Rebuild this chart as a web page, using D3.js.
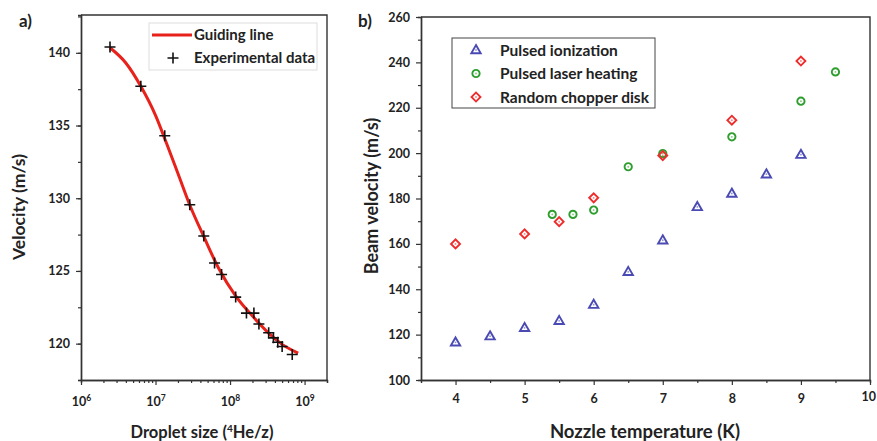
<!DOCTYPE html>
<html>
<head>
<meta charset="utf-8">
<script src="https://cdn.jsdelivr.net/npm/d3@7"></script>
<style>
  html, body { margin: 0; padding: 0; background: #fff; overflow: hidden; }
  svg { display: block; }
  svg text { font-family: Lato, "Open Sans", sans-serif; font-weight: bold; fill: #222; }
</style>
</head>
<body>
<div id="chart"></div>
<script>
// ---- data: panel a ----
const dropletSize = [2.45e6, 6.35e6, 1.33e7, 2.88e7, 4.44e7, 6.2e7, 7.7e7, 1.19e8, 1.66e8, 2.09e8, 2.44e8, 3.3e8, 3.82e8, 4.37e8, 5.0e8, 6.83e8];
const velocity = [140.4, 137.7, 134.3, 129.55, 127.4, 125.55, 124.75, 123.2, 122.1, 122.1, 121.35, 120.75, 120.4, 120.1, 119.8, 119.25];
const guideSize = [2.45e6, 4e6, 6.35e6, 1e7, 1.4e7, 2e7, 2.9e7, 4.5e7, 7e7, 1.2e8, 2e8, 3.5e8, 5e8, 8.2e8];
const guideVel = [140.35, 139.3, 137.7, 135.7, 133.8, 131.7, 129.5, 127.3, 125.2, 123.25, 121.9, 120.6, 119.95, 119.35];
const decadeTicks = [1e6, 1e7, 1e8, 1e9];
const decadeExp = ["6", "7", "8", "9"];
const velTicks = [120, 125, 130, 135, 140];

// ---- data: panel b ----
const ionT = [4, 4.5, 5, 5.5, 6, 6.5, 7, 7.5, 8, 8.5, 9];
const ionV = [116.6, 119.3, 123, 126.1, 133.2, 147.7, 161.6, 176.3, 182.2, 190.7, 199.3];
const laserT = [5.4, 5.7, 6, 6.5, 7, 8, 9, 9.5];
const laserV = [173, 173, 174.9, 194, 199.8, 207.2, 222.9, 235.8];
const chopT = [4, 5, 5.5, 6, 7, 8, 9];
const chopV = [160, 164.4, 169.8, 180.3, 198.9, 214.5, 240.6];
const seriesNames = ["Pulsed ionization", "Pulsed laser heating", "Random chopper disk"];
const seriesColors = ["#4a4ab4", "#2e9e2e", "#ee2d2d"];
const tempTicks = [4, 5, 6, 7, 8, 9, 10];
const beamTicks = [100, 120, 140, 160, 180, 200, 220, 240, 260];

const W = 877, H = 441;
const svg = d3.select("#chart").append("svg").attr("width", W).attr("height", H);
const axisColor = "#333";

function styleAxis(g) {
    g.selectAll("path").attr("stroke", axisColor).attr("stroke-width", 1.4);
    g.selectAll("line").attr("stroke", axisColor).attr("stroke-width", 1.2);
    g.selectAll("text").attr("fill", "#222").style("font-size", "12.5px");
}

function frame(x0, y0, x1, y1) {
    svg.append("path")
        .attr("d", `M${x0},${y0}H${x1}V${y1}`)
        .attr("fill", "none").attr("stroke", axisColor).attr("stroke-width", 1.4);
}

// ================= panel a =================
const ax = d3.scaleLog().domain([1e6, 2e9]).range([81, 327]);
const ay = d3.scaleLinear().domain([117.5, 142.6]).range([380, 15]);

frame(81, 15, 327, 380);

// minor ticks
const minorLog = ax.ticks().filter(v => decadeTicks.indexOf(v) < 0);
svg.append("g").attr("transform", "translate(0,380)")
    .call(d3.axisBottom(ax).tickValues(minorLog).tickSize(3).tickFormat(""))
    .call(styleAxis);
svg.append("g").attr("transform", "translate(81,0)")
    .call(d3.axisLeft(ay).tickValues(d3.range(117.5, 142.6, 2.5)).tickSize(3).tickFormat(""))
    .call(styleAxis);

const axB = svg.append("g").attr("transform", "translate(0,380)")
    .call(d3.axisBottom(ax).tickValues(decadeTicks).tickSize(5).tickSizeOuter(0).tickFormat(""))
    .call(styleAxis);
axB.selectAll(".tick").append("text")
    .attr("y", 26).attr("text-anchor", "middle").style("font-size", "12.5px")
    .each(function (d, i) {
        const t = d3.select(this);
        t.append("tspan").text("10");
        t.append("tspan").attr("dy", -5).style("font-size", "8.5px").text(decadeExp[i]);
    });

svg.append("g").attr("transform", "translate(81,0)")
    .call(d3.axisLeft(ay).tickValues(velTicks).tickSize(5).tickSizeOuter(0).tickPadding(6))
    .call(styleAxis);

// guiding line
const guide = d3.line()
    .x((d, i) => ax(guideSize[i]))
    .y((d, i) => ay(guideVel[i]))
    .curve(d3.curveMonotoneX);
svg.append("path").attr("d", guide(guideSize))
    .attr("fill", "none").attr("stroke", "#e8211a").attr("stroke-width", 3);

// crosses
const cross = s => `M${-s},0H${s}M0,${-s}V${s}`;
svg.append("g").selectAll("path").data(dropletSize).join("path")
    .attr("transform", (d, i) => `translate(${ax(d)},${ay(velocity[i])})`)
    .attr("d", cross(5.5))
    .attr("stroke", "#111").attr("stroke-width", 1.6);

// legend a
svg.append("rect").attr("x", 149).attr("y", 23).attr("width", 168).attr("height", 47)
    .attr("fill", "#fff").attr("stroke", "#ddd").attr("stroke-width", 1);
svg.append("line").attr("x1", 152).attr("x2", 192).attr("y1", 35).attr("y2", 35)
    .attr("stroke", "#e8211a").attr("stroke-width", 3);
svg.append("path").attr("transform", "translate(173,58)").attr("d", cross(5.5))
    .attr("stroke", "#111").attr("stroke-width", 1.6);
svg.append("text").attr("x", 194).attr("y", 40).style("font-size", "15px").text("Guiding line");
svg.append("text").attr("x", 194).attr("y", 63).style("font-size", "15px").text("Experimental data");

svg.append("text").attr("x", 19).attr("y", 27).style("font-size", "17px").text("a)");
svg.append("text").attr("transform", "translate(25,207) rotate(-90)").attr("text-anchor", "middle")
    .style("font-size", "17.5px").text("Velocity (m/s)");
const xt = svg.append("text").attr("x", 202).attr("y", 438).attr("text-anchor", "middle").style("font-size", "16.5px");
xt.append("tspan").text("Droplet size (");
xt.append("tspan").attr("dy", -6).style("font-size", "10px").text("4");
xt.append("tspan").attr("dy", 6).text("He/z)");

// ================= panel b =================
const bx = d3.scaleLinear().domain([3.5, 10]).range([421, 870]);
const by = d3.scaleLinear().domain([100, 260]).range([380, 17]);

frame(421, 17, 870, 380);

svg.append("g").attr("transform", "translate(0,380)")
    .call(d3.axisBottom(bx).tickValues(d3.range(4.5, 10, 1)).tickSize(3).tickFormat(""))
    .call(styleAxis);
svg.append("g").attr("transform", "translate(421,0)")
    .call(d3.axisLeft(by).tickValues(d3.range(110, 260, 20)).tickSize(3).tickFormat(""))
    .call(styleAxis);
const lastT = tempTicks[tempTicks.length - 1];
svg.append("g").attr("transform", "translate(0,380)")
    .call(d3.axisBottom(bx).tickValues(tempTicks).tickSize(5).tickSizeOuter(0).tickPadding(9)
        .tickFormat(d => d === lastT ? "" : String(d)))
    .call(styleAxis);
// last label sits against the page edge, pulled in so it stays whole
svg.append("text").attr("x", bx(lastT) + 6).attr("y", 401).attr("text-anchor", "end")
    .style("font-size", "12.5px").text(String(lastT));
svg.append("g").attr("transform", "translate(421,0)")
    .call(d3.axisLeft(by).tickValues(beamTicks).tickSize(5).tickSizeOuter(0).tickPadding(6))
    .call(styleAxis);

const symTypes = [d3.symbolTriangle, d3.symbolCircle, d3.symbolSquare];
const symSizes = [38, 42, 40];
const seriesT = [ionT, laserT, chopT];
const seriesV = [ionV, laserV, chopV];

function marker(g, k) {
    g.append("path")
        .attr("d", d3.symbol(symTypes[k], symSizes[k])())
        .attr("transform", k === 2 ? "rotate(45)" : (k === 0 ? "translate(0,0.5)" : ""))
        .attr("fill", "none").attr("stroke", seriesColors[k]).attr("stroke-width", 1.9);
    g.append("circle").attr("r", 0.9).attr("fill", seriesColors[k]).attr("opacity", 0.6);
}

seriesT.forEach((ts, k) => {
    svg.append("g").selectAll("g").data(ts).join("g")
        .attr("transform", (d, i) => `translate(${bx(d)},${by(seriesV[k][i])})`)
        .each(function () { marker(d3.select(this), k); });
});

// legend b
svg.append("rect").attr("x", 452).attr("y", 38).attr("width", 203).attr("height", 70)
    .attr("fill", "#fff").attr("stroke", "#444").attr("stroke-width", 1);
seriesNames.forEach((name, k) => {
    const yy = 50 + k * 23.5;
    marker(svg.append("g").attr("transform", `translate(476,${yy})`), k);
    svg.append("text").attr("x", 500).attr("y", yy + 5.5).style("font-size", "15.5px").text(name);
});

svg.append("text").attr("x", 358).attr("y", 27).style("font-size", "17px").text("b)");
svg.append("text").attr("transform", "translate(378,196) rotate(-90)").attr("text-anchor", "middle")
    .style("font-size", "18px").text("Beam velocity (m/s)");
svg.append("text").attr("x", 645).attr("y", 438).attr("text-anchor", "middle")
    .style("font-size", "18.5px").text("Nozzle temperature (K)");
</script>
</body>
</html>
